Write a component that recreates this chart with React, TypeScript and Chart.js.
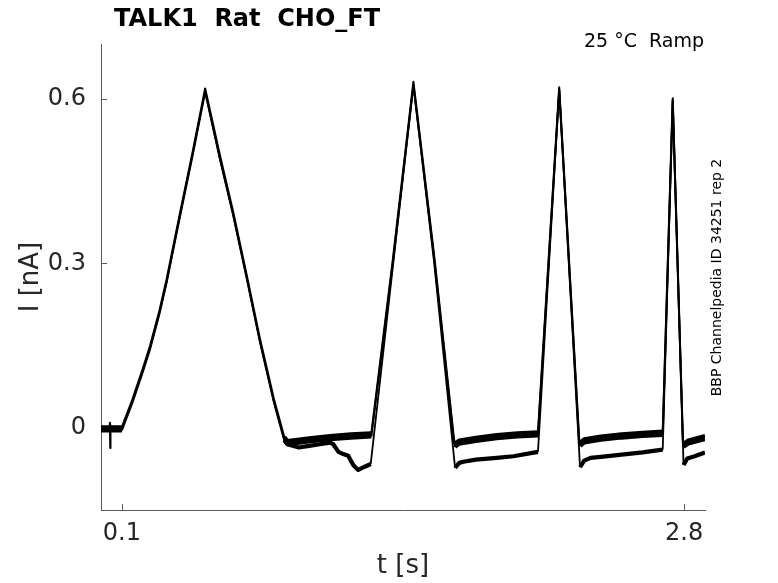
import React, { useEffect, useRef } from "react";
import { Chart, registerables } from "chart.js";

Chart.register(...registerables);

const TITLE = "TALK1  Rat  CHO_FT";
const CONDITION = "25 °C  Ramp";
const SIDE_NOTE = "BBP Channelpedia ID 34251 rep 2";
const X_LABEL = "t [s]";
const Y_LABEL = "I [nA]";
const X_TICKS = [0.1, 2.8];
const Y_TICKS = [0, 0.3, 0.6];
const X_MIN = 0;
const X_MAX = 2.9;
const Y_MIN = -0.15;
const Y_MAX = 0.7;

// upper cluster of sweeps (two edges of the noisy band)
const timeUpper = [
  0, 0.04, 0.043, 0.046, 0.1, 0.15, 0.2, 0.235, 0.28, 0.315, 0.38, 0.44, 0.5,
  0.571, 0.634, 0.7, 0.763, 0.83, 0.88, 0.895, 1.0, 1.1, 1.2, 1.298, 1.4, 1.5,
  1.6, 1.695, 1.7, 1.72, 1.8, 1.9, 2.0, 2.098, 2.2, 2.296, 2.3, 2.32, 2.4, 2.5,
  2.6, 2.697, 2.745, 2.794, 2.797, 2.82, 2.9,
];
const currentUpperA = [
  0.001, 0.001, 0.009, 0.001, 0.001, 0.051, 0.107, 0.149, 0.213, 0.271, 0.393,
  0.503, 0.619, 0.497, 0.395, 0.278, 0.163, 0.053, -0.017, -0.024, -0.019,
  -0.015, -0.012, -0.01, 0.303, 0.631, 0.313, -0.021, -0.029, -0.023, -0.018,
  -0.013, -0.01, -0.008, 0.621, -0.021, -0.027, -0.021, -0.016, -0.012, -0.009,
  -0.007, 0.601, -0.023, -0.029, -0.023, -0.015,
];
const currentUpperB = [
  -0.005, -0.005, 0.003, -0.005, -0.005, 0.045, 0.101, 0.143, 0.207, 0.265,
  0.387, 0.497, 0.613, 0.491, 0.389, 0.272, 0.157, 0.047, -0.023, -0.03, -0.025,
  -0.021, -0.018, -0.016, 0.297, 0.625, 0.307, -0.027, -0.035, -0.029, -0.024,
  -0.019, -0.016, -0.014, 0.615, -0.027, -0.033, -0.027, -0.022, -0.018,
  -0.015, -0.013, 0.595, -0.029, -0.035, -0.029, -0.021,
];

// lower sweep
const timeLower = [
  0, 0.04, 0.042, 0.044, 0.046, 0.1, 0.15, 0.2, 0.235, 0.28, 0.315, 0.38, 0.44,
  0.5, 0.571, 0.634, 0.7, 0.763, 0.83, 0.88, 0.895, 0.95, 1.0, 1.05, 1.1, 1.115,
  1.14, 1.163, 1.187, 1.211, 1.235, 1.26, 1.285, 1.295, 1.4, 1.5, 1.6, 1.7,
  1.72, 1.74, 1.8, 1.9, 1.98, 2.098, 2.2, 2.3, 2.32, 2.35, 2.4, 2.5, 2.6, 2.697,
  2.745, 2.797, 2.815, 2.85, 2.9,
];
const currentLower = [
  -0.003, -0.003, 0.008, -0.037, -0.004, -0.003, 0.047, 0.103, 0.145, 0.209,
  0.266, 0.389, 0.5, 0.614, 0.49, 0.39, 0.273, 0.158, 0.048, -0.022, -0.03,
  -0.036, -0.033, -0.03, -0.027, -0.03, -0.044, -0.048, -0.051, -0.068, -0.077,
  -0.072, -0.068, -0.066, 0.29, 0.626, 0.3, -0.073, -0.064, -0.062, -0.058,
  -0.055, -0.052, -0.044, 0.618, -0.072, -0.06, -0.055, -0.053, -0.049, -0.045,
  -0.04, 0.598, -0.068, -0.056, -0.052, -0.045,
];

const FONT = '"DejaVu Sans", "Liberation Sans", sans-serif';
const AXIS_COLOR = "#5a5a5a";
const TEXT_COLOR = "#262626";

function toPoints(xs: number[], ys: number[]) {
  return xs.map((x, i) => ({ x, y: ys[i] }));
}

function widthBySlope(flat: number, ramp: number) {
  return (ctx: any) => {
    const dx = ctx.p1.parsed.x - ctx.p0.parsed.x;
    const dy = ctx.p1.parsed.y - ctx.p0.parsed.y;
    return Math.abs(dy / (dx || 1e-9)) < 0.9 ? flat : ramp;
  };
}

const decorations = {
  id: "decorations",
  beforeDatasetsDraw(chart: any) {
    const { ctx, chartArea, scales } = chart;
    ctx.save();
    ctx.strokeStyle = AXIS_COLOR;
    ctx.lineWidth = 1;
    for (const v of Y_TICKS) {
      const y = Math.round(scales.y.getPixelForValue(v)) + 0.5;
      ctx.beginPath();
      ctx.moveTo(chartArea.left, y);
      ctx.lineTo(chartArea.left + 6, y);
      ctx.stroke();
    }
    for (const v of X_TICKS) {
      const x = Math.round(scales.x.getPixelForValue(v)) + 0.5;
      ctx.beginPath();
      ctx.moveTo(x, chartArea.bottom);
      ctx.lineTo(x, chartArea.bottom - 6);
      ctx.stroke();
    }
    ctx.restore();
  },
  afterDraw(chart: any) {
    const { ctx } = chart;
    ctx.save();
    ctx.fillStyle = "#000";
    ctx.textBaseline = "alphabetic";
    ctx.textAlign = "left";
    ctx.font = `bold 24px ${FONT}`;
    ctx.fillText(TITLE, 114, 26);
    ctx.font = `19px ${FONT}`;
    ctx.textAlign = "right";
    ctx.fillText(CONDITION, 704, 47);
    ctx.translate(717, 277.5);
    ctx.rotate(-Math.PI / 2);
    ctx.textAlign = "center";
    ctx.textBaseline = "middle";
    ctx.font = `14px ${FONT}`;
    ctx.fillText(SIDE_NOTE, 0, 0);
    ctx.restore();
  },
};

export default function App() {
  const canvasRef = useRef<HTMLCanvasElement | null>(null);

  useEffect(() => {
    const canvas = canvasRef.current;
    if (!canvas) return;
    const lineBase = {
      borderColor: "#000",
      pointRadius: 0,
      fill: false,
      tension: 0,
      borderJoinStyle: "round" as const,
    };
    const chart = new Chart(canvas, {
      type: "line",
      data: {
        datasets: [
          {
            ...lineBase,
            label: "sweep lower",
            data: toPoints(timeLower, currentLower),
            borderWidth: 1.8,
            segment: { borderWidth: widthBySlope(4.2, 1.8) },
          },
          {
            ...lineBase,
            label: "sweep A",
            data: toPoints(timeUpper, currentUpperA),
            borderWidth: 2,
            segment: { borderWidth: widthBySlope(4, 2) },
          },
          {
            ...lineBase,
            label: "sweep B",
            data: toPoints(timeUpper, currentUpperB),
            borderWidth: 2,
            segment: { borderWidth: widthBySlope(4, 2) },
          },
        ],
      },
      options: {
        animation: false,
        responsive: false,
        maintainAspectRatio: false,
        layout: { padding: { left: 0, top: 44, right: 73, bottom: 0 } },
        plugins: {
          legend: { display: false },
          tooltip: { enabled: false },
          title: { display: false },
        },
        scales: {
          x: {
            type: "linear",
            min: X_MIN,
            max: X_MAX,
            afterBuildTicks: (scale: any) => {
              scale.ticks = X_TICKS.map((value) => ({ value }));
            },
            afterFit: (scale: any) => {
              scale.height = 73;
            },
            grid: { display: false, drawTicks: false },
            border: { display: true, color: AXIS_COLOR, width: 1 },
            ticks: {
              padding: 9,
              color: TEXT_COLOR,
              font: { family: FONT, size: 24 },
              maxRotation: 0,
              autoSkip: false,
              callback: (v: any) => String(v),
            },
            title: {
              display: true,
              text: X_LABEL,
              color: TEXT_COLOR,
              font: { family: FONT, size: 26 },
              padding: { top: 0, bottom: 1 },
            },
          },
          y: {
            type: "linear",
            min: Y_MIN,
            max: Y_MAX,
            afterBuildTicks: (scale: any) => {
              scale.ticks = Y_TICKS.map((value) => ({ value }));
            },
            afterFit: (scale: any) => {
              scale.width = 101;
            },
            grid: { display: false, drawTicks: false },
            border: { display: true, color: AXIS_COLOR, width: 1 },
            ticks: {
              padding: 15,
              color: TEXT_COLOR,
              font: { family: FONT, size: 24 },
              autoSkip: false,
              callback: (v: any) => String(v),
            },
            title: {
              display: true,
              text: Y_LABEL,
              color: TEXT_COLOR,
              font: { family: FONT, size: 26 },
              padding: { top: 16, bottom: 0 },
            },
          },
        },
      },
      plugins: [decorations],
    });
    return () => chart.destroy();
  }, []);

  return (
    <div
      style={{
        position: "absolute",
        left: 0,
        top: 0,
        width: 778,
        height: 583,
        background: "#fff",
      }}
    >
      <canvas ref={canvasRef} width={778} height={583} />
    </div>
  );
}
